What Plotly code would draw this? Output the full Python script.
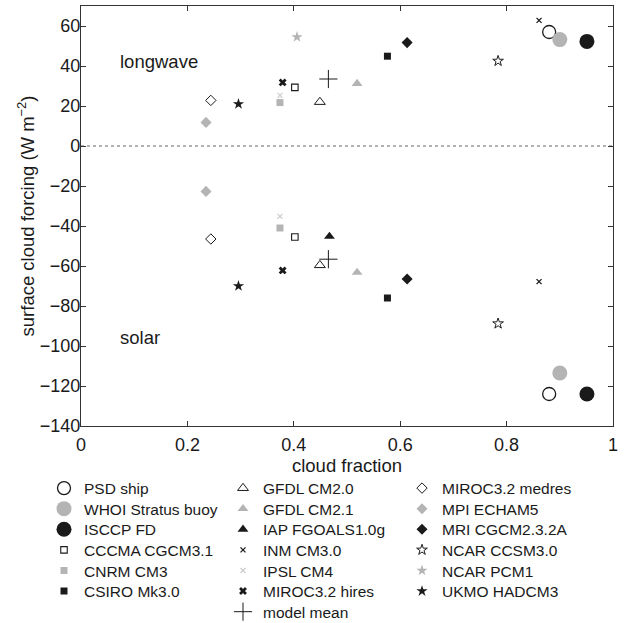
import plotly.graph_objects as go

# ---- data ----
models = ["PSD ship", "WHOI Stratus buoy", "ISCCP FD", "CCCMA CGCM3.1", "CNRM CM3",
          "CSIRO Mk3.0", "GFDL CM2.0", "GFDL CM2.1", "IAP FGOALS1.0g", "INM CM3.0",
          "IPSL CM4", "MIROC3.2 hires", "model mean", "MIROC3.2 medres", "MPI ECHAM5",
          "MRI CGCM2.3.2A", "NCAR CCSM3.0", "NCAR PCM1", "UKMO HADCM3"]
cloud_fraction = [0.880, 0.900, 0.951, 0.402, 0.374,
                  0.576, 0.449, 0.519, 0.467, 0.861,
                  0.374, 0.379, 0.465, 0.244, 0.235,
                  0.613, 0.784, 0.406, 0.296]
longwave = [57.0, 53.2, 52.3, 29.3, 21.7,
            44.9, 22.0, 31.2, None, 62.8,
            25.3, 31.8, 33.5, 22.8, 11.8,
            51.7, 42.5, 54.5, 21.0]
solar = [-124.0, -113.5, -124.0, -45.5, -41.0,
         -76.0, -59.6, -63.2, -45.2, -67.8,
         -35.2, -62.2, -56.6, -46.5, -22.7,
         -66.5, -88.8, None, -70.0]

BLACK = "#1a1a1a"
GREY = "#b4b4b4"
LGREY = "#cdcdcd"

# style per model: (symbol, size, color, line width)
styles = {
    "PSD ship": ("circle-open", 13, BLACK, 1.3),
    "WHOI Stratus buoy": ("circle", 15, GREY, 0),
    "ISCCP FD": ("circle", 15, BLACK, 0),
    "CCCMA CGCM3.1": ("square-open", 6.5, BLACK, 1.1),
    "CNRM CM3": ("square", 7, GREY, 0),
    "CSIRO Mk3.0": ("square", 7, BLACK, 0),
    "GFDL CM2.0": ("triangle-up-open", 9.5, BLACK, 1.0),
    "GFDL CM2.1": ("triangle-up", 9.5, GREY, 0),
    "IAP FGOALS1.0g": ("triangle-up", 9.5, BLACK, 0),
    "INM CM3.0": ("x-thin-open", 5, BLACK, 1.3),
    "IPSL CM4": ("x-thin-open", 5, LGREY, 1.3),
    "MIROC3.2 hires": ("x", 7, BLACK, 0),
    "model mean": ("cross-thin-open", 13, BLACK, 1.0),
    "MIROC3.2 medres": ("diamond-open", 8, BLACK, 1.0),
    "MPI ECHAM5": ("diamond", 8.5, GREY, 0),
    "MRI CGCM2.3.2A": ("diamond", 8.5, BLACK, 0),
    "NCAR CCSM3.0": ("star-open", 8, BLACK, 1.0),
    "NCAR PCM1": ("star", 8.5, GREY, 0),
    "UKMO HADCM3": ("star", 8.5, BLACK, 0),
}

# legend arrangement (three columns, as in the reference)
legend_columns = [
    ["PSD ship", "WHOI Stratus buoy", "ISCCP FD", "CCCMA CGCM3.1", "CNRM CM3", "CSIRO Mk3.0"],
    ["GFDL CM2.0", "GFDL CM2.1", "IAP FGOALS1.0g", "INM CM3.0", "IPSL CM4", "MIROC3.2 hires", "model mean"],
    ["MIROC3.2 medres", "MPI ECHAM5", "MRI CGCM2.3.2A", "NCAR CCSM3.0", "NCAR PCM1", "UKMO HADCM3"],
]

FONT = "Liberation Sans, Arial, Helvetica, sans-serif"

W, H = 625, 623
ML, MR, MT, MB = 81, 12, 6, 197
PW, PH = W - ML - MR, H - MT - MB

# legend placement (pixels)
col_left_px = [44, 223, 402]
row0_px, row_step_px = 488.5, 20.6

fig = go.Figure()

# dotted zero line
fig.add_trace(go.Scatter(x=[0, 1], y=[0, 0], mode="lines",
                         line=dict(color="#666666", width=1, dash="dot"),
                         showlegend=False, hoverinfo="skip"))

legend_layouts = {}
k = 0
for ci, col in enumerate(legend_columns):
    for ri, name in enumerate(col):
        k += 1
        lname = "legend" if k == 1 else f"legend{k}"
        i = models.index(name)
        xs, ys = [], []
        for v in (longwave[i], solar[i]):
            if v is not None:
                xs.append(cloud_fraction[i])
                ys.append(v)
        sym, size, color, lw = styles[name]
        fig.add_trace(go.Scatter(
            x=xs, y=ys, mode="markers", name=name, legend=lname,
            marker=dict(symbol=sym, size=size, color=color,
                        line=dict(color=color, width=lw)),
        ))
        legend_layouts[lname] = dict(
            x=(col_left_px[ci] - ML) / PW,
            y=-((row0_px + ri * row_step_px) - (MT + PH)) / PH,
            xanchor="left", yanchor="middle",
            font=dict(size=15.5, color=BLACK, family=FONT),
            bgcolor="rgba(0,0,0,0)", borderwidth=0, itemwidth=30,
        )

fig.add_annotation(x=0.07, y=42.3, text="longwave", showarrow=False,
                   xanchor="left", yanchor="middle", font=dict(size=18.5, color=BLACK))
fig.add_annotation(x=0.07, y=-95.5, text="solar", showarrow=False,
                   xanchor="left", yanchor="middle", font=dict(size=18.5, color=BLACK))

axis_common = dict(showline=True, linecolor="#333333", linewidth=1.3, mirror="ticks",
                   ticks="inside", ticklen=5, tickcolor="#333333", tickwidth=1,
                   showgrid=False, zeroline=False,
                   tickfont=dict(size=18, color=BLACK, family=FONT))

fig.update_xaxes(range=[0, 1], tickvals=[0, 0.2, 0.4, 0.6, 0.8, 1],
                 ticktext=["0", "0.2", "0.4", "0.6", "0.8", "1"],
                 ticklabelstandoff=2,
                 title=dict(text="cloud fraction", font=dict(size=18.5, color=BLACK), standoff=0),
                 **axis_common)
fig.update_yaxes(range=[-140, 70], tickvals=list(range(-140, 61, 20)),
                 ticklabelstandoff=-4,
                 title=dict(text="surface cloud forcing (W m<sup>−2</sup>)",
                            font=dict(size=18.5, color=BLACK), standoff=0),
                 **axis_common)

fig.update_layout(
    width=W, height=H,
    margin=dict(l=ML, r=MR, t=MT, b=MB, autoexpand=False),
    plot_bgcolor="white", paper_bgcolor="white",
    font=dict(family=FONT, size=16, color=BLACK),
    **legend_layouts,
)

fig.write_html("out.html")
